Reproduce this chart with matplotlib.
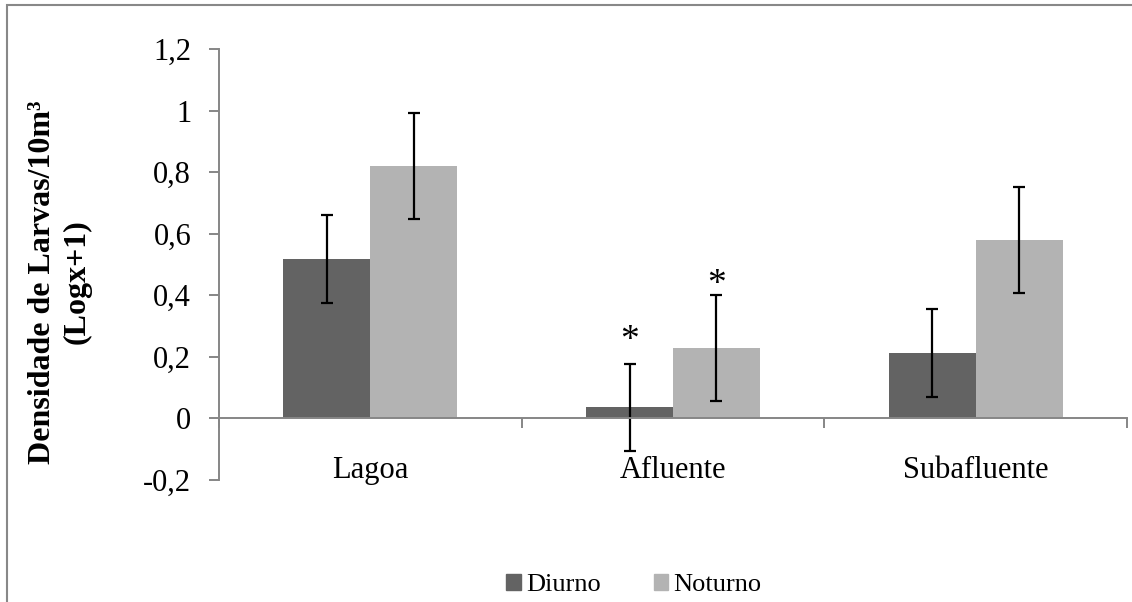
import numpy as np
import matplotlib
matplotlib.use("Agg")
import matplotlib.pyplot as plt
from matplotlib.patches import Rectangle, Patch

plt.rcParams['font.family'] = ['Liberation Serif', 'DejaVu Serif']

# dados
locais = ['Lagoa', 'Afluente', 'Subafluente']
diurno = [0.518, 0.036, 0.212]
diurno_err = [0.142, 0.141, 0.142]
noturno = [0.82, 0.228, 0.58]
noturno_err = [0.172, 0.172, 0.173]
diurno_sig = [False, True, False]
noturno_sig = [False, True, False]

cor_diurno = '#636363'
cor_noturno = '#b3b3b3'
cinza = '#868686'

fig = plt.figure(figsize=(11.32, 6.02), dpi=100)
ax = fig.add_axes([219/1132, 1-480/602, (1127-219)/1132, (480-49)/602])

x = np.arange(len(locais))
w = 0.287
ax.bar(x - w/2, diurno, w, color=cor_diurno, yerr=diurno_err,
       error_kw=dict(ecolor='black', elinewidth=1.6, capsize=4.5, capthick=1.6), zorder=2)
ax.bar(x + w/2, noturno, w, color=cor_noturno, yerr=noturno_err,
       error_kw=dict(ecolor='black', elinewidth=1.6, capsize=4.5, capthick=1.6), zorder=2)

# asteriscos acima das barras de erro
for i in range(len(locais)):
    if diurno_sig[i]:
        ax.annotate('*', (x[i] - w/2, diurno[i] + diurno_err[i]), xytext=(0, 10),
                    textcoords='offset points', ha='center', va='baseline', fontsize=27)
    if noturno_sig[i]:
        ax.annotate('*', (x[i] + w/2, noturno[i] + noturno_err[i]), xytext=(0, 1),
                    textcoords='offset points', ha='center', va='baseline', fontsize=27)

ax.set_xlim(-0.5, len(locais) - 0.5)
ax.set_ylim(-0.2, 1.2)
yt = np.arange(-0.2, 1.21, 0.2)
ax.set_yticks(yt)
ax.set_yticklabels([('%g' % round(v, 1)).replace('.', ',') for v in yt])

ax.spines['top'].set_visible(False)
ax.spines['right'].set_visible(False)
ax.spines['bottom'].set_position(('data', 0))
for s in ['left', 'bottom']:
    ax.spines[s].set_color(cinza)
    ax.spines[s].set_linewidth(1.4)

ax.set_xticks(np.arange(len(locais) + 1) - 0.5)
ax.set_xticklabels([])
ax.set_xticks(x, minor=True)
ax.set_xticklabels(locais, minor=True)
ax.tick_params(axis='x', which='major', direction='out', length=7, width=1.4, color=cinza)
ax.tick_params(axis='x', which='minor', length=0, pad=27, labelsize=22)
ax.tick_params(axis='y', direction='out', length=7, width=1.4, color=cinza, pad=13, labelsize=22)

fig.text(60/1132, 1-282/602, 'Densidade de Larvas/10m³\n(Logx+1)', rotation=90,
         ha='center', va='center', fontsize=23, fontweight='bold', linespacing=1.25)

handles = [Patch(color=cor_diurno, label='Diurno'), Patch(color=cor_noturno, label='Noturno')]
fig.legend(handles=handles, loc='center', bbox_to_anchor=(634/1132, 1-585/602), ncol=2,
           frameon=False, fontsize=19, handlelength=0.55, handleheight=0.55,
           handletextpad=0.2, columnspacing=2.0)

fig.patches.append(Rectangle((7/1132, -0.1), 1.2, 1 - 5/602 + 0.1, transform=fig.transFigure,
                             fill=False, edgecolor='#888888', linewidth=1.5))

fig.savefig('out.png', dpi=100)
